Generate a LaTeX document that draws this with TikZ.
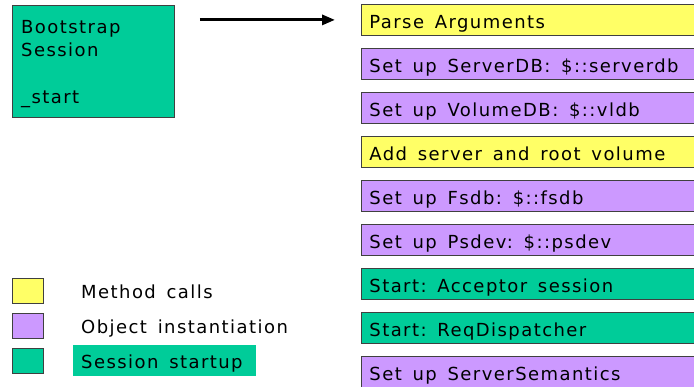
\documentclass[tikz,border=0pt]{standalone}
\usepackage{fontspec}
\setmainfont{DejaVu Sans}[LetterSpace=8, WordSpace=1.5]
\frenchspacing
\usetikzlibrary{arrows.meta,calc}
\definecolor{callcol}{HTML}{FFFF66}
\definecolor{objcol}{HTML}{CC99FF}
\definecolor{sesscol}{HTML}{00CC99}
\newcommand{\lefttext}[2]{\makebox[#1][l]{#2}}
\tikzset{stepbox/.style={draw=black!75, line width=0.8pt, anchor=north west, minimum height=31pt, inner xsep=8pt, inner ysep=0pt, text height=17pt, text depth=0pt, font=\fontsize{18}{22}\selectfont}}
\tikzset{keybox/.style={draw=black!75, line width=0.8pt, minimum width=31pt, minimum height=25pt, inner sep=0pt}}
\tikzset{keytext/.style={anchor=west, minimum height=31pt, inner xsep=8pt, inner ysep=0pt, text height=17pt, text depth=0pt, font=\fontsize{18}{22}\selectfont}}
\tikzset{link/.style={-{Triangle[length=13pt,width=10pt]}, line width=3pt}}

\begin{document}
\begin{tikzpicture}[x=1pt,y=-1pt]
    \useasboundingbox (0,0) rectangle (694,387);
    \clip (0,0) rectangle (694,387);
    \node [draw=black!75, line width=0.8pt, fill=sesscol, anchor=north west, minimum width=162pt, minimum height=112pt] (boot) at (12,5) {};
    \node [anchor=north west, align=left, inner sep=0pt, font=\fontsize{18}{23.5}\selectfont] (bootlabel) at (21,20) {Bootstrap\\Session\\[23.5pt]\_start};
    \foreach \t/\c [count=\i from 0] in {Parse Arguments/callcol, Set up ServerDB: \$::serverdb/objcol, Set up VolumeDB: \$::vldb/objcol, Add server and root volume/callcol, Set up Fsdb: \$::fsdb/objcol, Set up Psdev: \$::psdev/objcol, Start: Acceptor session/sesscol, Start: ReqDispatcher/sesscol, Set up ServerSemantics/objcol} {
        \node [stepbox, fill=\c] (task\i) at (361, 4+44*\i) {\lefttext{324pt}{\t}};
    }
    \draw [link, shorten <=25pt, shorten >=26pt] (boot.east |- task0.west) -- (task0.west);
    \foreach \c/\t/\f [count=\i from 0] in {callcol/Method calls/none, objcol/Object instantiation/none, sesscol/Session startup/sesscol} {
        \node [keybox, fill=\c] (key\i) at (27.5, 290.5+35*\i) {};
        \node [keytext, fill=\f] (keylabel\i) at (73, 290.5+35*\i) {\lefttext{167pt}{\t}};
    }
\end{tikzpicture}
\end{document}
